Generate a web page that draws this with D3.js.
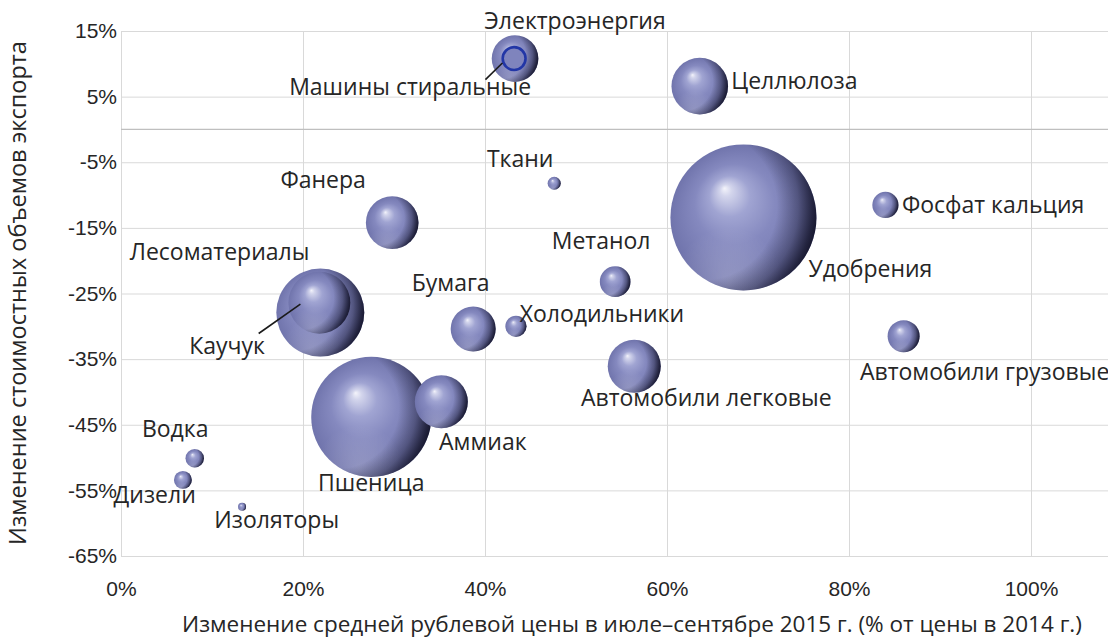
<!DOCTYPE html>
<html>
<head>
<meta charset="utf-8">
<script src="https://cdn.jsdelivr.net/npm/d3@7"></script>
<style>
  html, body { margin: 0; padding: 0; background: #ffffff; }
  svg { display: block; font-family: "Open Sans", "Noto Sans", sans-serif; }
</style>
</head>
<body>
<svg id="chart" width="1108" height="641"></svg>
<script>
// ---------------- data ----------------
const categories = [
  "Электроэнергия", "Машины стиральные", "Целлюлоза", "Ткани", "Фанера",
  "Удобрения", "Фосфат кальция", "Метанол", "Автомобили грузовые",
  "Автомобили легковые", "Холодильники", "Бумага", "Лесоматериалы",
  "Каучук", "Пшеница", "Аммиак", "Водка", "Дизели", "Изоляторы"
];
// change of average rouble price, Jul–Sep 2015 (% of 2014 price)
const priceChange = [
  0.433, 0.432, 0.636, 0.476, 0.298,
  0.684, 0.840, 0.543, 0.860,
  0.564, 0.434, 0.387, 0.219,
  0.218, 0.275, 0.352, 0.081, 0.068, 0.133
];
// change of export value
const exportChange = [
  0.108, 0.108, 0.066, -0.082, -0.142,
  -0.134, -0.115, -0.232, -0.315,
  -0.361, -0.300, -0.304, -0.279,
  -0.264, -0.438, -0.415, -0.501, -0.534, -0.575
];
// bubble size (relative export volume)
const bubbleSize = [
  10.2, 2.9, 15.0, 0.8, 13.0,
  100, 3.2, 4.4, 4.8,
  13.2, 2.1, 9.5, 36.3,
  18.0, 67.6, 13.2, 1.6, 1.5, 0.3
];
const xTicks = [0, 0.2, 0.4, 0.6, 0.8, 1.0];
const yTicks = [0.15, 0.05, -0.05, -0.15, -0.25, -0.35, -0.45, -0.55, -0.65];
const xTitle = "Изменение средней рублевой цены в июле–сентябре 2015 г. (% от цены в 2014 г.)";
const yTitle = "Изменение стоимостных объемов экспорта";

// ---------------- layout ----------------
const W = 1108, H = 641;
const plot = { left: 121, right: 1031, top: 31, bottom: 556, edge: 1108 };
// label offsets from bubble centre (dx, dy of baseline), text-anchor
const labelLayout = {
  "Электроэнергия": [60, -29.5, "middle"],
  "Машины стиральные": [-104, 36.7, "middle"],
  "Целлюлоза": [31.5, 3, "start"],
  "Ткани": [-34, -16.6, "middle"],
  "Фанера": [-69, -34.5, "middle"],
  "Удобрения": [127, 60, "middle"],
  "Фосфат кальция": [16.5, 8, "start"],
  "Метанол": [-14, -32.4, "middle"],
  "Автомобили грузовые": [81, 44, "middle"],
  "Автомобили легковые": [72, 40, "middle"],
  "Холодильники": [86, -4.3, "middle"],
  "Бумага": [-22.5, -38.3, "middle"],
  "Лесоматериалы": [-100.7, -52.5, "middle"],
  "Каучук": [-92.3, 51.5, "middle"],
  "Пшеница": [0, 73.7, "middle"],
  "Аммиак": [41.5, 48, "middle"],
  "Водка": [-19.5, -21.6, "middle"],
  "Дизели": [-28.2, 22.7, "middle"],
  "Изоляторы": [34.7, 21.6, "middle"]
};
const leaders = {
  "Машины стиральные": [-28.7, 21, -11.7, 4.4],
  "Каучук": [-60.7, 30.8, -19, 1.5]
};

const x = d3.scaleLinear().domain([0, 1]).range([plot.left, plot.right]);
const y = d3.scaleLinear().domain([-0.65, 0.15]).range([plot.bottom, plot.top]);
const r = d3.scaleSqrt().domain([0, 100]).range([0, 73]);
const pct = v => Math.round(v * 100) + "%";

const svg = d3.select("#chart");

// gradients
const defs = svg.append("defs");
const g1 = defs.append("radialGradient").attr("id", "sph")
  .attr("cx", 0.5).attr("cy", 0.5).attr("r", 0.5).attr("fx", 0.37).attr("fy", 0.3);
[[0, "#f4f4fb"], [0.08, "#d3d5ec"], [0.28, "#a0a4d2"], [0.55, "#8589bf"], [1, "#7074ac"]]
  .forEach(([o, c]) => g1.append("stop").attr("offset", o).attr("stop-color", c));
const g2 = defs.append("radialGradient").attr("id", "shade")
  .attr("cx", 0.22).attr("cy", 0.42).attr("r", 0.82).attr("fx", 0.22).attr("fy", 0.42);
[[0, 0], [0.62, 0], [0.8, 0.35], [0.92, 0.75], [1, 0.95]]
  .forEach(([o, a]) => g2.append("stop").attr("offset", o).attr("stop-color", "#0a0a1c").attr("stop-opacity", a));
const g3 = defs.append("radialGradient").attr("id", "refl")
  .attr("cx", 0.4).attr("cy", 0.95).attr("r", 0.38);
[[0, 0.22], [1, 0]]
  .forEach(([o, a]) => g3.append("stop").attr("offset", o).attr("stop-color", "#ffffff").attr("stop-opacity", a));

// grid + axes
const yAxis = d3.axisLeft(y).tickValues(yTicks).tickFormat(pct)
  .tickSize(-(plot.edge - plot.left)).tickPadding(4);
const gy = svg.append("g").attr("transform", `translate(${plot.left},0)`).call(yAxis);
gy.select(".domain").remove();
gy.selectAll("line").attr("stroke", "#d9d9d9");
gy.selectAll("text").attr("fill", "#262626").style("font-size", "21px");

const xAxis = d3.axisBottom(x).tickValues(xTicks).tickFormat(pct)
  .tickSize(-(plot.bottom - plot.top)).tickPadding(25);
const gx = svg.append("g").attr("transform", `translate(0,${plot.bottom})`).call(xAxis);
gx.select(".domain").remove();
gx.selectAll("line").attr("stroke", "#d9d9d9");
gx.selectAll("text").attr("fill", "#262626").style("font-size", "21px");

// zero line
svg.append("line")
  .attr("x1", plot.left).attr("x2", plot.edge)
  .attr("y1", y(0)).attr("y2", y(0))
  .attr("stroke", "#bfbfbf").attr("stroke-width", 1.3);

// titles
svg.append("text").attr("x", 632).attr("y", 624).attr("dy", "0.35em")
  .attr("text-anchor", "middle").attr("fill", "#262626").style("font-size", "22.5px").text(xTitle);
svg.append("text").attr("transform", "translate(18,293) rotate(-90)").attr("dy", "0.35em")
  .attr("text-anchor", "middle").attr("fill", "#262626").style("font-size", "23.5px").text(yTitle);

// bubbles
const data = categories.map((c, i) => ({ name: c, px: priceChange[i], ey: exportChange[i], s: bubbleSize[i] }));
const order = data.slice().sort((a, b) => b.s - a.s);
const bub = svg.append("g").selectAll("g").data(order).join("g")
  .attr("transform", d => `translate(${x(d.px)},${y(d.ey)})`);
bub.each(function (d) {
  const g = d3.select(this);
  const rad = r(d.s);
  if (d.name === "Машины стиральные") {
    g.append("circle").attr("r", rad - 1).attr("fill", "#7f84bd")
      .attr("stroke", "#2236a6").attr("stroke-width", 2.6);
  } else {
    g.append("circle").attr("r", rad).attr("fill", "url(#sph)");
    g.append("circle").attr("r", rad).attr("fill", "url(#refl)");
    g.append("circle").attr("r", rad).attr("fill", "url(#shade)");
  }
});

// leader lines
Object.entries(leaders).forEach(([name, l]) => {
  const d = data.find(e => e.name === name);
  const cx = x(d.px), cy = y(d.ey);
  svg.append("line").attr("x1", cx + l[0]).attr("y1", cy + l[1])
    .attr("x2", cx + l[2]).attr("y2", cy + l[3])
    .attr("stroke", "#1a1a1a").attr("stroke-width", 1.6);
});

// labels
svg.append("g").selectAll("text").data(data).join("text")
  .attr("x", d => x(d.px) + labelLayout[d.name][0])
  .attr("y", d => y(d.ey) + labelLayout[d.name][1])
  .attr("text-anchor", d => labelLayout[d.name][2])
  .attr("fill", "#262626").style("font-size", "23px")
  .text(d => d.name);
</script>
</body>
</html>
